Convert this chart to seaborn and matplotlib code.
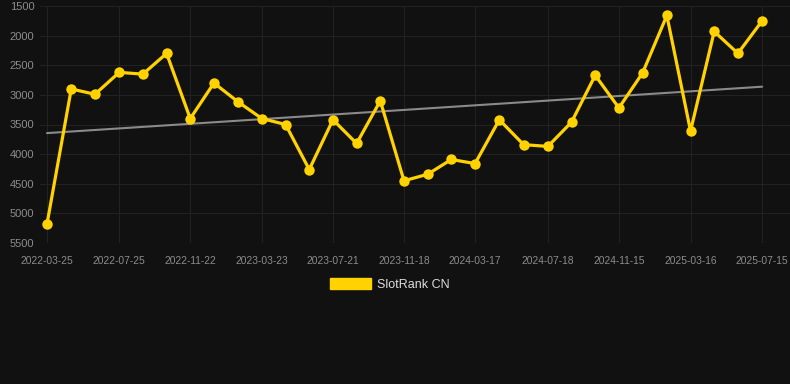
import matplotlib
matplotlib.use("Agg")
import matplotlib.pyplot as plt
import matplotlib.dates as mdates
from matplotlib.patches import Patch
import numpy as np
import pandas as pd
import seaborn as sns

dates = ["2022-03-25", "2022-05-05", "2022-06-14", "2022-07-25", "2022-09-03", "2022-10-13",
         "2022-11-22", "2023-01-01", "2023-02-11", "2023-03-23", "2023-05-02", "2023-06-11",
         "2023-07-21", "2023-08-30", "2023-10-09", "2023-11-18", "2023-12-28", "2024-02-06",
         "2024-03-17", "2024-04-27", "2024-06-07", "2024-07-18", "2024-08-27", "2024-10-06",
         "2024-11-15", "2024-12-25", "2025-02-04", "2025-03-16", "2025-04-25", "2025-06-04",
         "2025-07-15"]
ranks = [5180, 2900, 2990, 2620, 2650, 2300, 3400, 2800, 3120, 3400, 3500, 4260,
         3420, 3820, 3100, 4450, 4340, 4090, 4160, 3420, 3840, 3870, 3460, 2670,
         3220, 2630, 1660, 3610, 1930, 2300, 1750]
tick_labels = ["2022-03-25", "2022-07-25", "2022-11-22", "2023-03-23", "2023-07-21",
               "2023-11-18", "2024-03-17", "2024-07-18", "2024-11-15", "2025-03-16",
               "2025-07-15"]
yticks = [1500, 2000, 2500, 3000, 3500, 4000, 4500, 5000, 5500]
series_name = "SlotRank CN"

BG = "#111111"
GOLD = "#FFD200"

sns.set_theme(style="dark")
plt.rcParams["font.family"] = ["Liberation Sans", "DejaVu Sans"]

df = pd.DataFrame({"date": pd.to_datetime(dates), "rank": ranks})
x_num = mdates.date2num(df["date"])
coef = np.polyfit(x_num, df["rank"], 1)
df["trend"] = np.polyval(coef, x_num)

fig = plt.figure(figsize=(7.9, 3.84), dpi=100, facecolor=BG)
ax = fig.add_axes([40 / 790, 1 - 243 / 384, 750 / 790, 237 / 384])
ax.set_facecolor(BG)

sns.lineplot(data=df, x="date", y="trend", ax=ax, color="#8a8a8a", linewidth=1.5, zorder=2)
sns.lineplot(data=df, x="date", y="rank", ax=ax, color=GOLD, linewidth=2.3,
             marker="o", markersize=7.5, markeredgecolor=GOLD, markeredgewidth=0, zorder=3)

ax.set_ylim(5500, 1500)
ax.set_yticks(yticks)
ax.set_yticklabels([str(v) for v in yticks])
tick_dates = pd.to_datetime(tick_labels)
ax.set_xticks(tick_dates)
ax.set_xticklabels(tick_labels)
ax.set_xlim(tick_dates[0] - pd.Timedelta(days=11.8), tick_dates[-1] + pd.Timedelta(days=47))

ax.grid(True, color="#222222", linewidth=0.8)
ax.set_axisbelow(True)
for s in ax.spines.values():
    s.set_visible(False)
ax.tick_params(axis="y", labelsize=8, colors="#8c8c8c", length=0, pad=4)
ax.tick_params(axis="x", labelsize=7.4, colors="#8c8c8c", length=0, pad=9)
ax.set_xlabel("")
ax.set_ylabel("")

handle = Patch(facecolor=GOLD, edgecolor=GOLD)
fig.legend([handle], [series_name], loc="center", bbox_to_anchor=(390 / 790, 1 - 284.5 / 384),
           frameon=False, fontsize=9, labelcolor="#dddddd", handlelength=3.3, handleheight=0.9,
           handletextpad=0.5)

fig.savefig("out.png", dpi=100, facecolor=BG)
